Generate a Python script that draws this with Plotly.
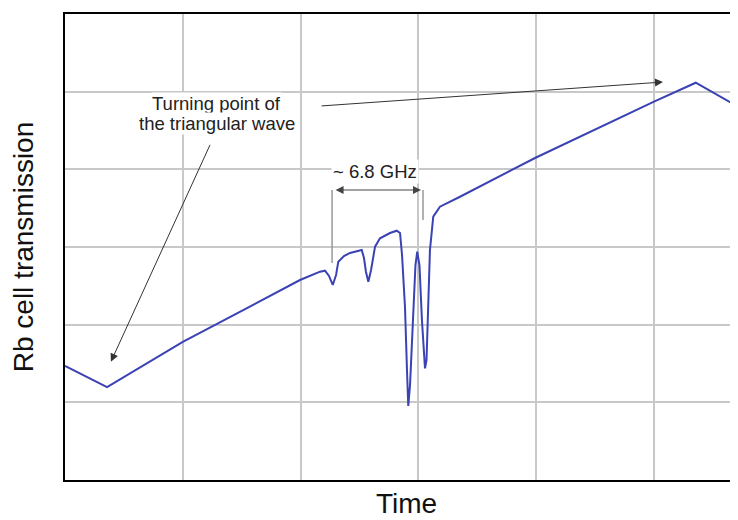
import plotly.graph_objects as go

# Trace (time in grid units, transmission in grid units)
time_vals = [0.000, 0.357, 1.000, 1.995, 2.165, 2.207, 2.241, 2.273, 2.301, 2.320,
             2.368, 2.419, 2.519, 2.538, 2.555, 2.575, 2.598, 2.632, 2.674, 2.759,
             2.816, 2.844, 2.861, 2.886, 2.903, 2.914, 2.929, 2.954, 2.975, 2.990,
             3.009, 3.030, 3.056, 3.069, 3.084, 3.098, 3.126, 3.183, 3.353, 3.990,
             5.000, 5.354, 5.713]
trans_vals = [1.468, 1.197, 1.777, 2.575, 2.682, 2.695, 2.627, 2.511, 2.639, 2.811,
              2.884, 2.923, 2.961, 2.858, 2.678, 2.553, 2.704, 3.004, 3.112, 3.180,
              3.210, 3.180, 2.897, 2.231, 1.416, 0.953, 1.223, 2.060, 2.768, 2.939,
              2.768, 2.060, 1.438, 1.545, 2.231, 2.961, 3.390, 3.519, 3.647, 4.146,
              4.871, 5.115, 4.806]

# Text
x_title = "Time"
y_title = "Rb cell transmission"
turn_lines = ["Turning point of", "the triangular wave"]
ghz_text = "~ 6.8 GHz"

# Annotation geometry (data units)
turn_label_x = 1.290
turn_label_ys = [4.853, 4.596]
turn_arrow_left = ((1.237, 4.335), (0.390, 1.523))   # (tail, head)
turn_arrow_right = ((2.165, 4.815), (5.076, 5.124))
ghz_label = (2.632, 3.978)
ghz_arrow = (2.284, 3.022, 3.734)                     # x_start, x_end, y
ghz_marks = [(2.267, 3.734, 2.794), (3.039, 3.734, 3.348)]

FONT = "Liberation Sans, Arial, Helvetica, sans-serif"

fig = go.Figure()
fig.add_trace(go.Scatter(x=time_vals, y=trans_vals, mode="lines",
                         line=dict(color="#3a42b4", width=2), hoverinfo="skip"))

annos = []
annos.append(dict(x=0.508, y=-0.0858, xref="paper", yref="paper", text=x_title,
                  showarrow=False, xanchor="center", yanchor="bottom", borderpad=0,
                  font=dict(family=FONT, size=28, color="#111")))
for txt, yy in zip(turn_lines, turn_label_ys):
    annos.append(dict(x=turn_label_x, y=yy, xref="x", yref="y", text=txt,
                      showarrow=False, font=dict(family=FONT, size=18.5, color="#222"),
                      bgcolor="white", borderpad=0))
for tail, head in (turn_arrow_left, turn_arrow_right):
    annos.append(dict(x=head[0], y=head[1], ax=tail[0], ay=tail[1],
                      xref="x", yref="y", axref="x", ayref="y", text="",
                      showarrow=True, arrowhead=2, arrowsize=1.6, arrowwidth=1,
                      arrowcolor="#333"))
annos.append(dict(x=ghz_label[0], y=ghz_label[1], xref="x", yref="y",
                  text=ghz_text, showarrow=False,
                  font=dict(family=FONT, size=18.5, color="#222"), bgcolor="white",
                  borderpad=1))
annos.append(dict(x=ghz_arrow[1], y=ghz_arrow[2], ax=ghz_arrow[0], ay=ghz_arrow[2],
                  xref="x", yref="y", axref="x", ayref="y", text="",
                  showarrow=True, arrowhead=2, startarrowhead=2, arrowside="end+start",
                  arrowsize=1.6, startarrowsize=1.6, arrowwidth=1, arrowcolor="#444"))

shapes = []
for xm, y0, y1 in ghz_marks:
    shapes.append(dict(type="line", xref="x", yref="y", x0=xm, x1=xm, y0=y0, y1=y1,
                       line=dict(color="#999", width=1.5)))

# The page body adds an 8px offset, so the figure is sized to end at the window edge.
fig.update_layout(
    width=730, height=512,
    margin=dict(l=57, r=0, t=6, b=40),
    paper_bgcolor="white", plot_bgcolor="white",
    showlegend=False,
    annotations=annos, shapes=shapes,
    font=dict(family=FONT, color="#111"),
    xaxis=dict(range=[0, 5.713], tick0=0, dtick=1, showticklabels=False, ticks="",
               showgrid=True, gridcolor="#c8c8c8", gridwidth=1.5, zeroline=False,
               showline=True, linecolor="black", linewidth=2, mirror=True,
               automargin=False),
    yaxis=dict(range=[0, 6], tick0=0, dtick=1, showticklabels=False, ticks="",
               showgrid=True, gridcolor="#c8c8c8", gridwidth=1.5, zeroline=False,
               showline=True, linecolor="black", linewidth=2, mirror=False,
               automargin=False,
               title=dict(text=y_title,
                          font=dict(size=28, family=FONT, color="#111"), standoff=22)),
)

fig.write_html("out.html")
